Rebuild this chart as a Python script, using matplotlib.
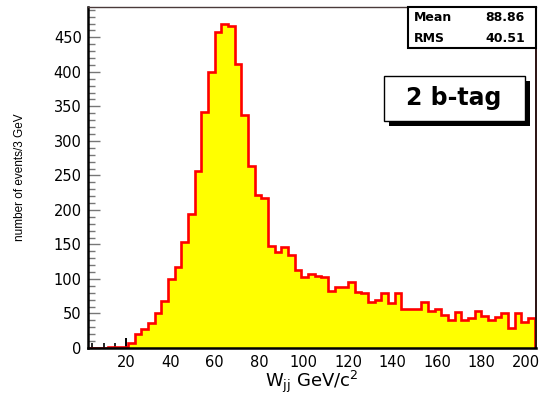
import numpy as np
import matplotlib
matplotlib.use("Agg")
import matplotlib.pyplot as plt
from matplotlib.patches import Rectangle
from matplotlib.ticker import MultipleLocator

# ---- data -------------------------------------------------------------
x_start = 3          # GeV/c^2, lower edge of first bin
bin_width = 3        # GeV/c^2
counts = [0, 0, 0, 1, 1, 1,
          7, 21, 27, 36, 50, 68, 100, 118, 153, 194,
          256, 342, 400, 458, 469, 467, 412, 337, 263, 222,
          217, 148, 139, 147, 135, 113, 103, 107, 104, 103,
          83, 88, 88, 96, 81, 79, 67, 70, 80, 65,
          80, 57, 56, 56, 66, 53, 57, 48, 41, 52,
          40, 44, 54, 47, 40, 45, 50, 29, 50, 37, 44]
x_ticks = [20, 40, 60, 80, 100, 120, 140, 160, 180, 200]
y_ticks = [0, 50, 100, 150, 200, 250, 300, 350, 400, 450]
stats_labels = ["Mean", "RMS"]
stats_values = ["88.86", "40.51"]
tag_label = "2 b-tag"
x_title = r"W$_{\mathregular{jj}}$ GeV/c$^{\mathregular{2}}$"
y_title = "number of events/3 GeV"

edges = x_start + bin_width * np.arange(len(counts) + 1)

# ---- figure -----------------------------------------------------------
plt.rcParams['font.family'] = ['DejaVu Sans']
plt.rcParams['mathtext.fontset'] = 'dejavusans'
fig = plt.figure(figsize=(5.39, 3.94), dpi=100)
ax = fig.add_axes([88 / 539, 1 - 348 / 394, (536 - 88) / 539, (348 - 7) / 394])

ax.stairs(counts, edges, fill=True, color="#ffff00", baseline=0, zorder=2)
ax.stairs(counts, edges, fill=False, color="#ff0000", linewidth=1.9,
          baseline=0, zorder=3)

ax.set_xlim(3, 204.6)
ax.set_ylim(0, 494)

ax.set_xticks(x_ticks)
ax.xaxis.set_minor_locator(MultipleLocator(5))
ax.set_yticks(y_ticks)
ax.yaxis.set_minor_locator(MultipleLocator(10))

ax.tick_params(axis="x", which="major", direction="in", length=7.5, width=1.4,
               color="black", labelsize=10.5, pad=5)
ax.tick_params(axis="x", which="minor", direction="in", length=3.5, width=1.2,
               color="black")
ax.tick_params(axis="y", which="major", direction="in", length=8.5, width=1.0,
               color="#777777", labelsize=10.5, pad=4.5)
ax.tick_params(axis="y", which="minor", direction="in", length=5, width=1.0,
               color="#777777")
ax.tick_params(top=False, right=False, which="both")

for s in ["left", "bottom"]:
    ax.spines[s].set_linewidth(1.8)
    ax.spines[s].set_color("black")
ax.spines["top"].set_linewidth(1.0)
ax.spines["top"].set_color("#4a3a3a")
ax.spines["right"].set_linewidth(1.4)
ax.spines["right"].set_color("#2a1010")
for s in ax.spines.values():
    s.set_zorder(5)

ax.set_xlabel(x_title, fontsize=13, labelpad=-1)
ax.set_ylabel(y_title, fontsize=8.5, labelpad=20,
              family=["Liberation Sans Narrow", "Liberation Sans"])

# ---- stats box --------------------------------------------------------
sx0, sy0 = (408 - 88) / 448, (348 - 48) / 341
ax.add_patch(Rectangle((sx0, sy0), 1 - sx0, 1 - sy0, transform=ax.transAxes,
                       facecolor="white", edgecolor="black", linewidth=1.5,
                       zorder=6, clip_on=False))
row_y = [(348 - 17.5) / 341, (348 - 38.5) / 341]
for lab, val, yy in zip(stats_labels, stats_values, row_y):
    ax.text((414 - 88) / 448, yy, lab, transform=ax.transAxes, fontsize=9,
            fontweight="bold", ha="left", va="center", zorder=7)
    ax.text((525 - 88) / 448, yy, val, transform=ax.transAxes, fontsize=9,
            fontweight="bold", ha="right", va="center", zorder=7)

# ---- tag box ----------------------------------------------------------
bx0, bx1 = (383.5 - 88) / 448, (524.5 - 88) / 448
by0, by1 = (348 - 120.5) / 341, (348 - 75.5) / 341
dx, dy = 5.5 / 448, 5 / 341
ax.add_patch(Rectangle((bx0 + dx, by0 - dy), bx1 - bx0, by1 - by0,
                       transform=ax.transAxes, facecolor="black",
                       edgecolor="none", zorder=6, clip_on=False))
ax.add_patch(Rectangle((bx0, by0), bx1 - bx0, by1 - by0,
                       transform=ax.transAxes, facecolor="white",
                       edgecolor="black", linewidth=1.0, zorder=7,
                       clip_on=False))
ax.text((bx0 + bx1) / 2, (by0 + by1) / 2, tag_label, transform=ax.transAxes,
        fontsize=17, fontweight="bold", ha="center", va="center", zorder=8)

fig.savefig("out.png", dpi=100, facecolor="white")
